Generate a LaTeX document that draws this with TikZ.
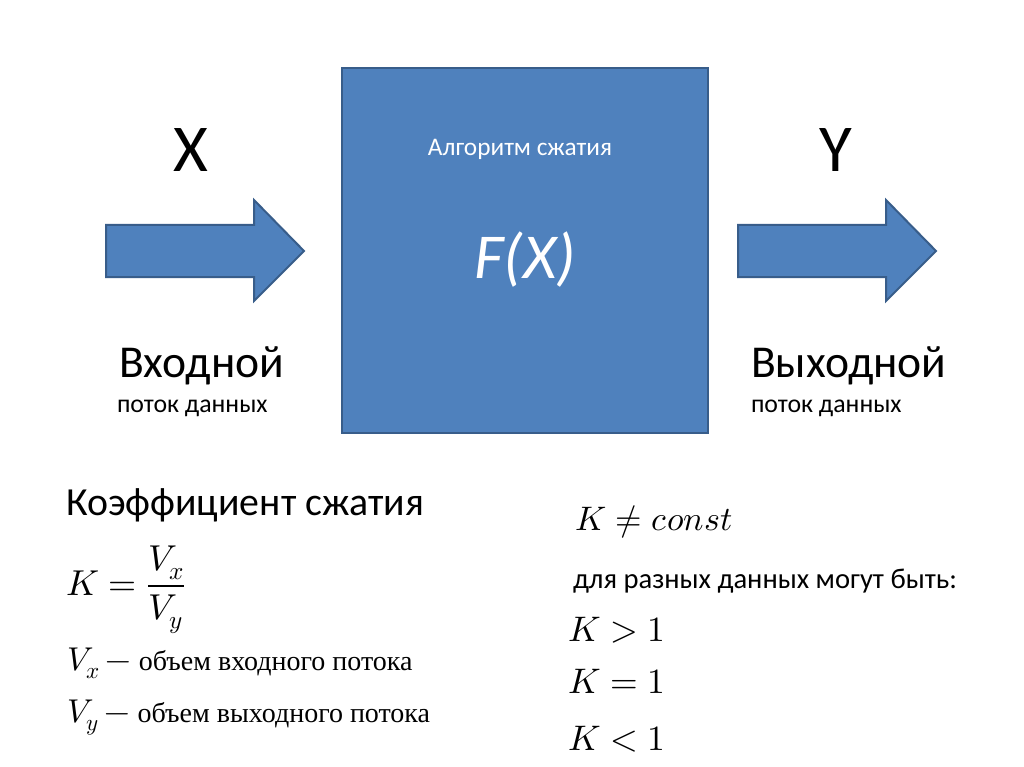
\documentclass[tikz,border=0pt]{standalone}
\usepackage{fontspec}
\usepackage{unicode-math}
\setmainfont{Carlito}
\setmathfont{Latin Modern Math}
\newfontfamily\serifcyr{Liberation Serif}
\definecolor{boxfill}{HTML}{4F81BD}
\definecolor{boxline}{HTML}{385D8A}
\tikzset{
  shapefill/.style={fill=boxfill,draw=boxline,line width=2pt,line join=miter},
  txt/.style={inner sep=0pt,outer sep=0pt,text=black},
}
\newcommand{\fs}[1]{\fontsize{#1pt}{#1pt}\selectfont}
\begin{document}
\begin{tikzpicture}[x=1pt,y=-1pt]
\useasboundingbox[fill=white] (0,0) rectangle (1024,767);
% central box
\draw[shapefill] (342,68) rectangle (708,433);
\node (alg) [txt,text=white,anchor=base] at (520,156) {\fs{25.3}Алгоритм сжатия};
\node (fx) [txt,text=white,anchor=base] at (525,278) {\fs{64}\itshape F(X)};
% arrows
\draw[shapefill] (106,225) -- (254,225) -- (254,200) -- (304,251) -- (254,301) -- (254,277) -- (106,277) -- cycle;
\draw[shapefill] (738,225) -- (886,225) -- (886,200) -- (936,251) -- (886,301) -- (886,277) -- (738,277) -- cycle;
% labels
\node (X) [txt,anchor=base] at (191,172) {\fs{67}X};
\node (Y) [txt,anchor=base] at (836,172) {\fs{67}Y};
\node (in1) [txt,anchor=base west] at (119,377) {\fs{45.6}Входной};
\node (in2) [txt,anchor=base west] at (117,412) {\fs{25.8}поток данных};
\node (out1) [txt,anchor=base west] at (751,377) {\fs{45.6}Выходной};
\node (out2) [txt,anchor=base west] at (751,412) {\fs{25.8}поток данных};
% bottom left
\node (coef) [txt,anchor=base west] at (66,515) {\fs{39.8}Коэффициент сжатия};
\node (form) [txt,anchor=west] at (66,590) {\fs{36}$\displaystyle K=\frac{V_x}{V_y}$};
\node (vx) [txt,anchor=base west] at (67,670) {{\fs{33}$V_x\,-$}\fs{28}\;{\serifcyr объем входного потока}};
\node (vy) [txt,anchor=base west] at (67,722) {{\fs{33}$V_y\,-$}\fs{28}\;{\serifcyr объем выходного потока}};
% bottom right
\node (kc) [txt,anchor=base west] at (575,530) {\fs{34}$K\neq const$};
\node (diff) [txt,anchor=base west] at (573,588) {\fs{28.6}для разных данных могут быть:};
\node (k1) [txt,anchor=base west] at (568,641) {\fs{35.5}$K>1$};
\node (k2) [txt,anchor=base west] at (568,693) {\fs{35.5}$K=1$};
\node (k3) [txt,anchor=base west] at (568,750) {\fs{35.5}$K<1$};
\end{tikzpicture}
\end{document}
